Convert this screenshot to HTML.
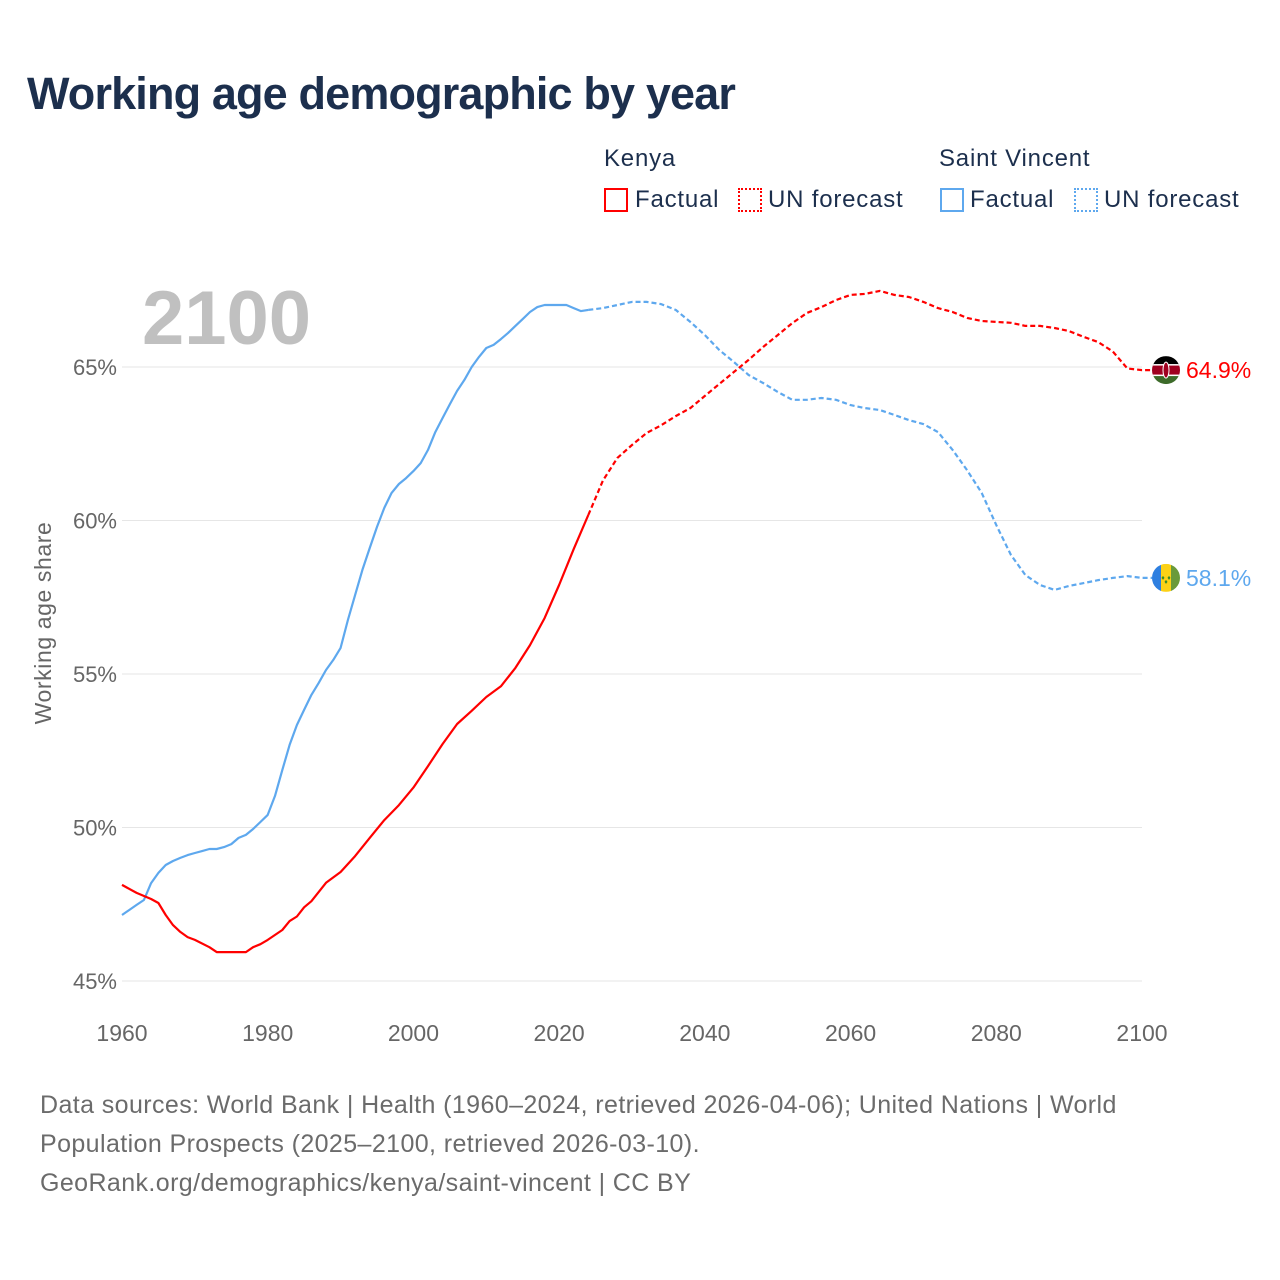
<!DOCTYPE html>
<html><head><meta charset="utf-8"><style>
body{margin:0;background:#fff;}
#wrap{position:relative;width:1280px;height:1280px;font-family:"Liberation Sans",sans-serif;}
.t{position:absolute;white-space:nowrap;}
.lg{letter-spacing:0.8px;}
</style></head><body>
<div id="wrap">
<div class="t" style="left:27px;top:68px;font-size:45px;font-weight:bold;color:#1c2f4d;letter-spacing:-0.85px;">Working age demographic by year</div>
<div class="t lg" style="left:604px;top:145px;font-size:24px;color:#1c2f4d;">Kenya</div>
<div class="t lg" style="left:939px;top:145px;font-size:24px;color:#1c2f4d;">Saint Vincent</div>
<div style="position:absolute;left:604px;top:188px;width:24px;height:24px;border:2px solid #f00;box-sizing:border-box;"></div>
<div class="t lg" style="left:635px;top:186px;font-size:24px;color:#1c2f4d;">Factual</div>
<div style="position:absolute;left:738px;top:188px;width:24px;height:24px;border:2px dotted #f00;box-sizing:border-box;"></div>
<div class="t lg" style="left:768px;top:186px;font-size:24px;color:#1c2f4d;">UN forecast</div>
<div style="position:absolute;left:940px;top:188px;width:24px;height:24px;border:2px solid #5ea8ee;box-sizing:border-box;"></div>
<div class="t lg" style="left:970px;top:186px;font-size:24px;color:#1c2f4d;">Factual</div>
<div style="position:absolute;left:1074px;top:188px;width:24px;height:24px;border:2px dotted #5ea8ee;box-sizing:border-box;"></div>
<div class="t lg" style="left:1104px;top:186px;font-size:24px;color:#1c2f4d;">UN forecast</div>
<svg id="chart" width="1280" height="1280" style="position:absolute;left:0;top:0;" xmlns="http://www.w3.org/2000/svg"></svg>
<div class="t" style="left:40px;top:1086px;font-size:25px;line-height:39px;letter-spacing:0.4px;color:#6b6b6b;">Data sources: World Bank | Health (1960–2024, retrieved 2026-04-06); United Nations | World<br>Population Prospects (2025–2100, retrieved 2026-03-10).<br>GeoRank.org/demographics/kenya/saint-vincent | CC BY</div>
</div>
<script>
const yTicks=[45,50,55,60,65];
const xTicks=[1960,1980,2000,2020,2040,2060,2080,2100];
const kenyaYears=[1960,1962,1964,1965,1966,1967,1968,1969,1970,1972,1973,1976,1977,1978,1979,1980,1982,1983,1984,1985,1986,1988,1990,1992,1994,1996,1998,2000,2002,2004,2006,2008,2010,2012,2014,2016,2018,2020,2022,2024];
const kenyaFactual=[48.13,47.87,47.67,47.54,47.15,46.82,46.6,46.43,46.34,46.1,45.94,45.94,45.94,46.1,46.2,46.34,46.66,46.95,47.1,47.4,47.6,48.2,48.55,49.07,49.66,50.24,50.73,51.3,52.0,52.72,53.37,53.8,54.25,54.6,55.2,55.94,56.82,57.9,59.07,60.18];
const kenyaFcYears=[2024,2026,2028,2030,2032,2034,2036,2038,2040,2042,2044,2046,2048,2050,2052,2054,2056,2058,2060,2062,2064,2066,2068,2070,2072,2074,2076,2078,2080,2082,2084,2086,2088,2090,2092,2094,2096,2098,2100];
const kenyaForecast=[60.18,61.3,62.04,62.46,62.85,63.1,63.4,63.66,64.06,64.45,64.84,65.23,65.65,66.04,66.43,66.76,66.95,67.18,67.35,67.38,67.48,67.35,67.28,67.12,66.92,66.79,66.6,66.5,66.47,66.44,66.34,66.34,66.27,66.17,65.98,65.81,65.5,64.95,64.9];
const svYears=[1960,1962,1963,1964,1965,1966,1967,1968,1969,1970,1971,1972,1973,1974,1975,1976,1977,1978,1979,1980,1981,1982,1983,1984,1985,1986,1987,1988,1989,1990,1991,1992,1993,1994,1995,1996,1997,1998,1999,2000,2001,2002,2003,2004,2005,2006,2007,2008,2009,2010,2011,2012,2013,2014,2015,2016,2017,2018,2019,2020,2021,2022,2023,2024];
const svFactual=[47.15,47.48,47.64,48.19,48.52,48.78,48.91,49.01,49.1,49.17,49.23,49.3,49.3,49.36,49.46,49.66,49.76,49.95,50.18,50.41,51.03,51.87,52.69,53.34,53.83,54.32,54.71,55.13,55.46,55.85,56.76,57.57,58.39,59.1,59.79,60.41,60.9,61.19,61.38,61.61,61.87,62.3,62.88,63.34,63.79,64.22,64.58,65.0,65.33,65.62,65.72,65.91,66.11,66.34,66.56,66.79,66.95,67.02,67.02,67.02,67.02,66.92,66.82,66.86];
const svFcYears=[2024,2026,2028,2030,2032,2034,2036,2038,2040,2042,2044,2046,2048,2050,2052,2054,2056,2058,2060,2062,2064,2066,2068,2070,2072,2074,2076,2078,2080,2082,2084,2086,2088,2090,2092,2094,2096,2098,2100];
const svForecast=[66.86,66.92,67.02,67.12,67.12,67.05,66.86,66.47,66.04,65.55,65.16,64.74,64.48,64.19,63.93,63.93,63.99,63.93,63.76,63.66,63.6,63.44,63.27,63.14,62.88,62.3,61.64,60.9,59.85,58.88,58.22,57.9,57.74,57.87,57.96,58.06,58.13,58.19,58.13];
const yearLabel=['2100'];
const endLabels=['64.9%','58.1%'];

const NS='http://www.w3.org/2000/svg';
const svg=document.getElementById('chart');
const X0=122,X1=1142;
function xs(yr){return X0+(yr-1960)*(X1-X0)/140;}
function ys(v){return 981-(v-45)*(981-367)/20;}
function mk(tag,attrs,parent){const e=document.createElementNS(NS,tag);for(const k in attrs)e.setAttribute(k,attrs[k]);(parent||svg).appendChild(e);return e;}

yTicks.forEach(v=>{
  const g=mk('line',{x1:X0,x2:X1,y1:ys(v),y2:ys(v),stroke:'#e6e6e6','stroke-width':1});
  
  
  const t=mk('text',{x:117,y:ys(v)+8,'text-anchor':'end','font-size':22,fill:'#666','font-family':'Liberation Sans, sans-serif'});
  t.textContent=v+'%';
  
  
});
xTicks.forEach(yr=>{
  const t=mk('text',{x:xs(yr),y:1041,'text-anchor':'middle','font-size':23,fill:'#666','font-family':'Liberation Sans, sans-serif'});
  t.textContent=yr;
  
  
});
const yt=mk('text',{x:0,y:0,transform:'translate(51,623) rotate(-90)','text-anchor':'middle','font-size':23,fill:'#666','font-family':'Liberation Sans, sans-serif','letter-spacing':'0.6'});
yt.textContent='Working age share';


const big=mk('text',{x:142,y:344,'font-size':76,'font-weight':'bold',fill:'#c0c0c0','font-family':'Liberation Sans, sans-serif'});
big.textContent=yearLabel[0];



function line(years,vals,color,dash,name){
  let d=years.map((yr,i)=>(i?'L':'M')+xs(yr).toFixed(1)+','+ys(vals[i]).toFixed(1)).join(' ');
  if(dash)d+=' L'+(xs(years[years.length-1])+10)+','+ys(vals[vals.length-1]).toFixed(1);
  const p=mk('path',{d:d,fill:'none',stroke:color,'stroke-width':2.2,'stroke-linejoin':'round'});
  if(dash)p.setAttribute('stroke-dasharray','5,3');
  
  
}
line(svYears,svFactual,'#5ea8ee',false,'saint-vincent-factual-line');
line(svFcYears,svForecast,'#5ea8ee',true,'saint-vincent-forecast-line');
line(kenyaYears,kenyaFactual,'#ff0000',false,'kenya-factual-line');
line(kenyaFcYears,kenyaForecast,'#ff0000',true,'kenya-forecast-line');

const kx=1166,ky=ys(kenyaForecast[kenyaForecast.length-1]);
const defs=mk('defs',{});
const c1=mk('clipPath',{id:'ck'},defs);mk('circle',{cx:kx,cy:ky,r:14},c1);
const gk=mk('g',{'clip-path':'url(#ck)'});


mk('rect',{x:kx-14,y:ky-14,width:28,height:9,fill:'#000'},gk);
mk('rect',{x:kx-14,y:ky-5,width:28,height:10,fill:'#a00020'},gk);
mk('rect',{x:kx-14,y:ky+5,width:28,height:9,fill:'#3d6b2a'},gk);
mk('rect',{x:kx-14,y:ky-6,width:28,height:1.5,fill:'#fff'},gk);
mk('rect',{x:kx-14,y:ky+4.5,width:28,height:1.5,fill:'#fff'},gk);
mk('ellipse',{cx:kx,cy:ky,rx:3,ry:8,fill:'#a00020',stroke:'#fff','stroke-width':1},gk);
const sx=1166,sy=ys(svForecast[svForecast.length-1]);
const c2=mk('clipPath',{id:'cs'},defs);mk('circle',{cx:sx,cy:sy,r:14},c2);
const gs=mk('g',{'clip-path':'url(#cs)'});


mk('rect',{x:sx-14,y:sy-14,width:9,height:28,fill:'#2e7fe0'},gs);
mk('rect',{x:sx-5,y:sy-14,width:10,height:28,fill:'#fcd116'},gs);
mk('rect',{x:sx+5,y:sy-14,width:9,height:28,fill:'#6a9a3a'},gs);
mk('path',{d:`M${sx-3},${sy-2} l1.5,2 l-1.5,2 l-1.5,-2z M${sx+3},${sy-2} l1.5,2 l-1.5,2 l-1.5,-2z M${sx},${sy+2} l1.5,2 l-1.5,2 l-1.5,-2z`,fill:'#3a8a2a'},gs);

const l1=mk('text',{x:1186,y:ky+8,'font-size':23,fill:'#ff0000','font-family':'Liberation Sans, sans-serif'});
l1.textContent=endLabels[0];


const l2=mk('text',{x:1186,y:sy+8,'font-size':23,fill:'#5ea8ee','font-family':'Liberation Sans, sans-serif'});
l2.textContent=endLabels[1];


</script>
</body></html>
